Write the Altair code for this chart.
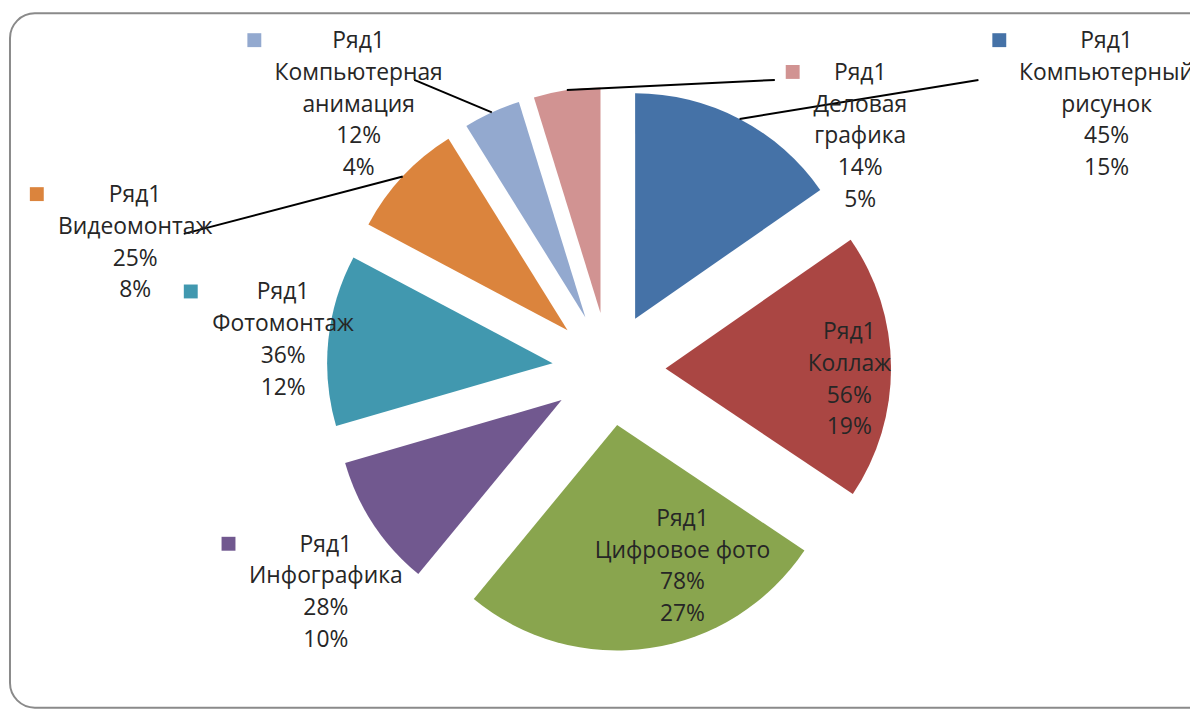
import altair as alt
import pandas as pd

# ---- data ----
series_name = "Ряд1"
categories = ["Компьютерный рисунок", "Коллаж", "Цифровое фото", "Инфографика",
              "Фотомонтаж", "Видеомонтаж", "Компьютерная анимация", "Деловая графика"]
label_names = ["Компьютерный\nрисунок", "Коллаж", "Цифровое фото", "Инфографика",
               "Фотомонтаж", "Видеомонтаж", "Компьютерная\nанимация", "Деловая\nграфика"]
values = [45, 56, 78, 28, 36, 24.6, 12, 14]
colors = ["#4572A7", "#AA4643", "#89A54E", "#71588F",
          "#4198AF", "#DB843D", "#93A9CF", "#D19392"]

# ---- layout (pixels in chart space) ----
W, H = 1190, 704
CX, CY, R, EXPLODE = 605, 361, 227, 57
FS, LH = 23, 32
label_x = [1106, 847, 679, 320, 277, 128, 353, 858]
label_y = [32, 325, 513, 539, 285, 187, 32, 64]          # centre of first line
key_x = [998, None, None, 222, 184, 29, 248, 790]
key_y = [30, None, None, 537, 283, 185, 30, 62]
lead_x2 = [977, None, None, None, None, 177, 409, 772]
lead_y2 = [70, None, None, None, None, 225, 70, 70]

df = pd.DataFrame({
    "order": list(range(len(categories))),
    "cat": categories,
    "name": label_names,
    "value": values,
    "lx": label_x,
    "ly": [y - 12 for y in label_y],
    "kx": key_x,
    "ky": key_y,
    "lx2": lead_x2,
    "ly2": lead_y2,
})

color_scale = alt.Scale(domain=categories, range=colors)

base = alt.Chart(df).transform_window(
    cum="sum(value)", frame=[None, 0], sort=[{"field": "order"}]
).transform_joinaggregate(
    total="sum(value)"
).transform_calculate(
    t0="2*PI*(datum.cum - datum.value)/datum.total",
    t1="2*PI*datum.cum/datum.total",
).transform_calculate(
    mid="(datum.t0 + datum.t1)/2",
).transform_calculate(
    px=f"{CX} + {EXPLODE}*sin(datum.mid)",
    py=f"{CY} - {EXPLODE}*cos(datum.mid)",
).transform_calculate(
    ax=f"datum.px + {R}*sin(datum.mid)",
    ay=f"datum.py - {R}*cos(datum.mid)",
    txt=f"'{series_name}\\n' + datum.name + '\\n' + format(datum.value, '.0f') + '%\\n' + format(datum.value/datum.total, '.0%')",
)

frame = alt.Chart(pd.DataFrame({"f": [0]})).mark_rect(
    filled=False, stroke="#8a8a8a", strokeWidth=2, cornerRadius=25
).encode(
    x=alt.value(2), x2=alt.value(1240), y=alt.value(3), y2=alt.value(H - 2)
)

arcs = base.mark_arc(radius=R, stroke=None).encode(
    theta=alt.Theta("t0:Q", scale=None),
    theta2="t1:Q",
    x=alt.X("px:Q", scale=None),
    y=alt.Y("py:Q", scale=None),
    color=alt.Color("cat:N", scale=color_scale, legend=None),
)

leaders = base.transform_filter("isValid(datum.lx2)").mark_rule(
    color="#000000", strokeWidth=2
).encode(
    x=alt.X("ax:Q", scale=None),
    y=alt.Y("ay:Q", scale=None),
    x2="lx2:Q",
    y2="ly2:Q",
)

keys = base.transform_filter("isValid(datum.kx)").mark_square(
    size=196, opacity=1, filled=True
).encode(
    x=alt.X("kx:Q", scale=None),
    y=alt.Y("ky:Q", scale=None),
    color=alt.Color("cat:N", scale=color_scale, legend=None),
)

texts = base.mark_text(
    font="Open Sans", fontSize=FS, lineHeight=LH, lineBreak="\n",
    align="center", baseline="top", color="#262626"
).encode(
    x=alt.X("lx:Q", scale=None),
    y=alt.Y("ly:Q", scale=None),
    text="txt:N",
)

chart = alt.layer(frame, arcs, leaders, keys, texts).properties(
    width=W, height=H,
    autosize=alt.AutoSizeParams(type="none"),
    padding=0,
).configure_view(stroke=None)

chart.save("out.html", embed_options={"renderer": "svg", "actions": False})
